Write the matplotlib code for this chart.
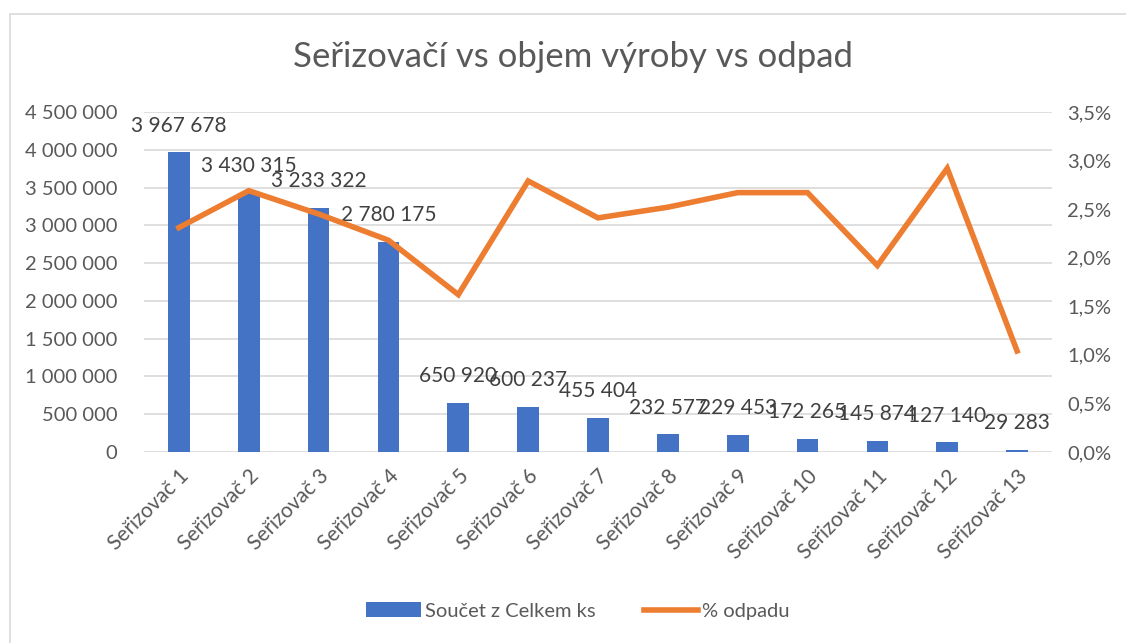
import numpy as np
import matplotlib
matplotlib.use("Agg")
import matplotlib.pyplot as plt
from matplotlib.ticker import FuncFormatter
from matplotlib.patches import Rectangle

# data
kategorie = ["Seřizovač %d" % i for i in range(1, 14)]
celkem_ks = [3967678, 3430315, 3233322, 2780175, 650920, 600237, 455404,
             232577, 229453, 172265, 145874, 127140, 29283]
odpad_pct = [2.31, 2.69, 2.45, 2.18, 1.62, 2.79, 2.41, 2.52, 2.67, 2.67, 1.92, 2.92, 1.04]

modra = "#4472C4"
oranzova = "#ED7D31"
seda = "#595959"

plt.rcParams['font.family'] = ['Lato', 'DejaVu Sans']

fig = plt.figure(figsize=(11.26, 6.43), dpi=100)
# chart frame
fig.patches.append(Rectangle((10/1126, -0.1), 1.2, 1 - 14/643 + 0.1, transform=fig.transFigure,
                             fill=False, edgecolor="#D9D9D9", lw=1.2))

ax = fig.add_axes([144/1126, 1 - 452/643, (1052 - 144)/1126, 340/643])
x = np.arange(len(kategorie))
bars = ax.bar(x, celkem_ks, width=0.31, color=modra, zorder=2, label="Součet z Celkem ks")
ax.set_ylim(0, 4500000)
ax.set_yticks(np.arange(0, 4500001, 500000))
ax.yaxis.set_major_formatter(FuncFormatter(lambda v, p: format(int(v), ",").replace(",", " ")))
ax.set_xlim(-0.5, len(kategorie) - 0.5)
ax.set_xticks(x)
ax.set_xticklabels(kategorie, rotation=45, ha="right", va="top", rotation_mode="anchor", fontsize=15)
ax.grid(axis="y", color="#D9D9D9", lw=1.2, zorder=0)
for s in ax.spines.values():
    s.set_visible(False)
ax.tick_params(length=0, colors=seda)
ax.tick_params(axis="y", pad=19, labelsize=14.5)
ax.tick_params(axis="x", pad=10)

for xi, v in zip(x, celkem_ks):
    ax.annotate(format(v, ",").replace(",", " "), (xi, v), xytext=(0, 12), textcoords="offset points",
                ha="center", va="bottom", fontsize=15, color="#404040", zorder=5)

ax2 = ax.twinx()
ax2.plot(x, odpad_pct, color=oranzova, lw=4, solid_joinstyle="miter", zorder=3, label="% odpadu")
ax2.set_ylim(0, 3.5)
ax2.set_yticks(np.arange(0, 3.51, 0.5))
ax2.yaxis.set_major_formatter(FuncFormatter(lambda v, p: ("%.1f%%" % v).replace(".", ",")))
for s in ax2.spines.values():
    s.set_visible(False)
ax2.tick_params(length=0, colors=seda, labelsize=14.5, pad=11)

fig.text(573/1126, 1 - 57/643, "Seřizovačí vs objem výroby vs odpad", ha="center", va="center",
         fontsize=25, color=seda)

h1, l1 = ax.get_legend_handles_labels()
h2, l2 = ax2.get_legend_handles_labels()
fig.legend(h1 + h2, l1 + l2, loc="center", bbox_to_anchor=(578/1126, 1 - 611/643), ncol=2,
           frameon=False, fontsize=14.5, labelcolor=seda, handlelength=2.7, handletextpad=0.2,
           columnspacing=2.4)

fig.savefig("out.png", dpi=100)
